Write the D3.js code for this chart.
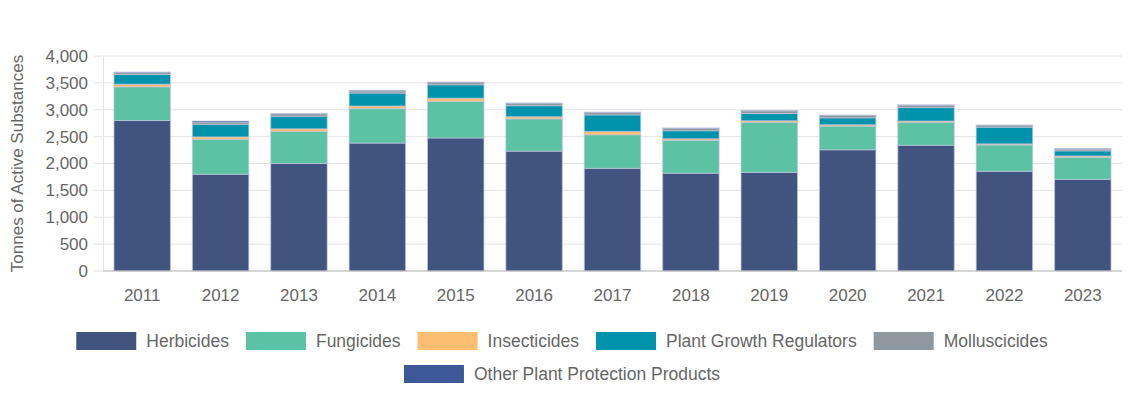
<!DOCTYPE html>
<html>
<head>
<meta charset="utf-8">
<script src="https://cdn.jsdelivr.net/npm/d3@7"></script>
<style>
  body { margin: 0; background: #fff; }
  text { font-family: "Liberation Sans", Arial, sans-serif; fill: #666; }
</style>
</head>
<body>
<div id="chart"></div>
<script>
// Data
const years = ["2011", "2012", "2013", "2014", "2015", "2016", "2017", "2018", "2019", "2020", "2021", "2022", "2023"];
const herbicides = [2800, 1800, 2000, 2380, 2475, 2230, 1910, 1820, 1835, 2255, 2340, 1855, 1705];
const fungicides = [625, 650, 595, 640, 680, 600, 625, 610, 930, 440, 425, 490, 410];
const insecticides = [50, 45, 50, 50, 60, 40, 60, 30, 30, 25, 25, 20, 25];
const growthRegulators = [180, 235, 235, 240, 250, 205, 310, 150, 135, 130, 250, 310, 95];
const molluscicides = [37, 35, 45, 40, 40, 45, 45, 45, 50, 45, 45, 35, 35];
const otherProducts = [10, 25, 5, 10, 10, 5, 5, 5, 5, 5, 5, 5, 5];
const yTicks = [0, 500, 1000, 1500, 2000, 2500, 3000, 3500, 4000];

const seriesNames = ["Herbicides", "Fungicides", "Insecticides", "Plant Growth Regulators", "Molluscicides", "Other Plant Protection Products"];
const seriesValues = [herbicides, fungicides, insecticides, growthRegulators, molluscicides, otherProducts];
const colors = ["#41547f", "#5bc2a3", "#fdbe72", "#0093ab", "#8f979f", "#3c5898"];

// Set up dimensions
const width = 1144;
const height = 413;
const margin = { top: 56, right: 22, bottom: 142, left: 103 };

const svg = d3.select("#chart")
    .append("svg")
    .attr("width", width)
    .attr("height", height);

// Build table for stacking
const table = years.map((y, i) => {
    const row = { year: y };
    seriesNames.forEach((s, j) => row[s] = seriesValues[j][i]);
    return row;
});
const stacked = d3.stack().keys(seriesNames)(table);

// Scales
const x = d3.scaleBand()
    .domain(years)
    .range([margin.left, width - margin.right])
    .paddingInner(0.28)
    .paddingOuter(0.14);

const y = d3.scaleLinear()
    .domain([0, 4000])
    .range([height - margin.bottom, margin.top]);

// Gridlines
svg.append("g")
    .selectAll("line")
    .data(yTicks)
    .enter().append("line")
    .attr("x1", margin.left - 9)
    .attr("x2", width - margin.right)
    .attr("y1", d => y(d))
    .attr("y2", d => y(d))
    .attr("stroke", "#e4e4e4")
    .attr("stroke-width", 1);

// Y axis
const yAxis = svg.append("g")
    .attr("transform", `translate(${margin.left},0)`)
    .call(d3.axisLeft(y).tickValues(yTicks).tickFormat(d3.format(",")).tickSize(0).tickPadding(15));
yAxis.select(".domain").attr("stroke", "#e4e4e4");
yAxis.selectAll("text").style("font-size", "17px").attr("fill", "#666");

// Bars
svg.append("g")
    .selectAll("g")
    .data(stacked)
    .enter().append("g")
    .attr("fill", (d, i) => colors[i])
    .selectAll("rect")
    .data(d => d)
    .enter().append("rect")
    .attr("x", d => x(d.data.year))
    .attr("width", x.bandwidth())
    .attr("y", d => y(d[1]))
    .attr("height", d => Math.max(0, y(d[0]) - y(d[1])))
    .attr("stroke", "rgba(190,198,220,0.7)")
    .attr("stroke-width", 1);

// X axis
const xAxis = svg.append("g")
    .attr("transform", `translate(0,${height - margin.bottom})`)
    .call(d3.axisBottom(x).tickSize(0).tickPadding(18));
xAxis.select(".domain").attr("stroke", "#bbb").attr("d", `M${margin.left},0H${width - margin.right}`);
xAxis.selectAll("text").style("font-size", "17px").attr("fill", "#666");

// Y axis title
svg.append("text")
    .attr("transform", `translate(23,${(margin.top + height - margin.bottom) / 2}) rotate(-90)`)
    .attr("text-anchor", "middle")
    .style("font-size", "17px")
    .text("Tonnes of Active Substances");

// Legend
const boxW = 60, boxH = 18, boxGap = 10, itemGap = 17;
const legendCenter = 562;
const rows = [[0, 1, 2, 3, 4], [5]];
const rowY = [341, 374];

rows.forEach((row, r) => {
    const g = svg.append("g");
    let cursor = 0;
    row.forEach(i => {
        const item = g.append("g").attr("transform", `translate(${cursor},0)`);
        item.append("rect")
            .attr("x", 0)
            .attr("y", rowY[r] - boxH / 2)
            .attr("width", boxW)
            .attr("height", boxH)
            .attr("fill", colors[i]);
        const t = item.append("text")
            .attr("x", boxW + boxGap)
            .attr("y", rowY[r])
            .attr("dy", "0.35em")
            .style("font-size", "17.5px")
            .text(seriesNames[i]);
        cursor += boxW + boxGap + t.node().getComputedTextLength() + itemGap;
    });
    const total = cursor - itemGap;
    g.attr("transform", `translate(${legendCenter - total / 2},0)`);
});
</script>
</body>
</html>
